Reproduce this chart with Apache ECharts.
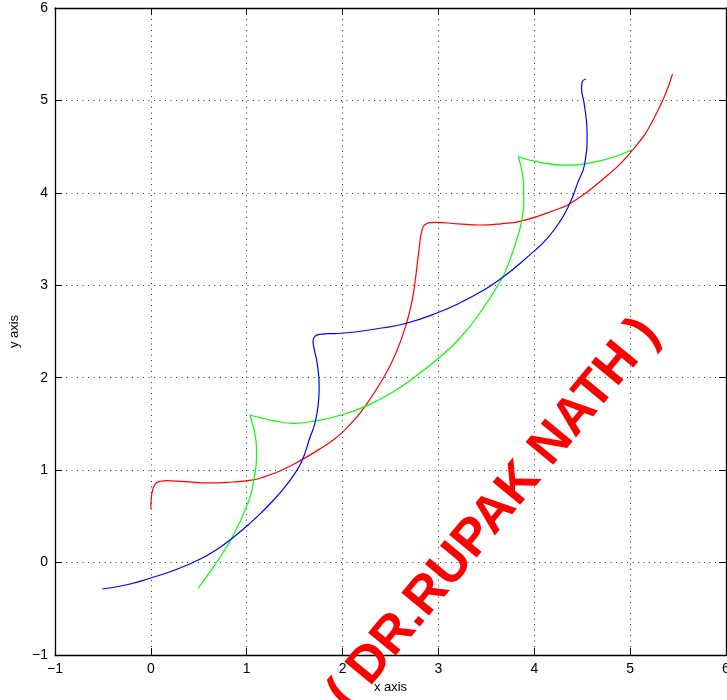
<!DOCTYPE html>
<html>
<head>
<meta charset="utf-8">
<style>
  html, body { margin: 0; padding: 0; background: #fff; overflow: hidden; }
  #chart { width: 727px; height: 700px; }
</style>
<script src="https://cdn.jsdelivr.net/npm/echarts@6/dist/echarts.min.js"></script>
</head>
<body>
<div id="chart"></div>
<script>
// Tick values shared by both axes
const xTicks = [-1, 0, 1, 2, 3, 4, 5, 6];
const yTicks = [-1, 0, 1, 2, 3, 4, 5, 6];

// Traced trajectories, [x, y] pairs in drawing order
const redPath = [
  [0.000, 0.580], [0.005, 0.700], [0.020, 0.790], [0.050, 0.855], [0.100, 0.880],
  [0.164, 0.886], [0.350, 0.876], [0.615, 0.862], [0.850, 0.872], [1.067, 0.894],
  [1.200, 0.935], [1.346, 0.991], [1.554, 1.100], [1.763, 1.230], [1.880, 1.310],
  [1.989, 1.400], [2.110, 1.530], [2.232, 1.687], [2.424, 1.994], [2.550, 2.250],
  [2.667, 2.589], [2.726, 2.840], [2.754, 3.022], [2.806, 3.455], [2.823, 3.570],
  [2.858, 3.655], [2.963, 3.681], [3.200, 3.665], [3.432, 3.652], [3.650, 3.665],
  [3.884, 3.699], [4.267, 3.833], [4.371, 3.882], [4.650, 4.090], [5.031, 4.471],
  [5.275, 4.861], [5.442, 5.286]
];

const greenPath = [
  [0.494, -0.278], [0.600, -0.125], [0.720, 0.055], [0.842, 0.263], [0.998, 0.605],
  [1.074, 0.894], [1.102, 1.218], [1.085, 1.399], [1.060, 1.500], [1.033, 1.597],
  [1.150, 1.565], [1.276, 1.535], [1.484, 1.507], [1.728, 1.535], [1.989, 1.597],
  [2.232, 1.687], [2.500, 1.830], [2.736, 1.994], [3.000, 2.210], [3.223, 2.427],
  [3.432, 2.700], [3.658, 3.065], [3.740, 3.260], [3.815, 3.490], [3.867, 3.688],
  [3.891, 3.920], [3.884, 4.139], [3.860, 4.290], [3.832, 4.391], [4.024, 4.337],
  [4.301, 4.301], [4.649, 4.337], [5.031, 4.471]
];

const bluePath = [
  [-0.508, -0.286], [-0.250, -0.240], [-0.010, -0.170], [0.250, -0.080], [0.511, 0.036],
  [0.700, 0.150], [0.859, 0.272], [1.050, 0.440], [1.170, 0.558], [1.294, 0.692],
  [1.380, 0.795], [1.468, 0.914], [1.572, 1.092], [1.659, 1.350], [1.711, 1.507],
  [1.745, 1.700], [1.756, 1.903], [1.735, 2.156], [1.700, 2.330], [1.692, 2.400],
  [1.711, 2.448], [1.760, 2.470], [1.850, 2.476], [1.989, 2.481], [2.389, 2.535],
  [2.667, 2.589], [2.997, 2.705], [3.223, 2.809], [3.432, 2.925], [3.658, 3.075],
  [3.954, 3.329], [4.128, 3.500], [4.267, 3.688], [4.371, 3.887], [4.450, 4.100],
  [4.527, 4.320], [4.551, 4.645], [4.520, 4.969], [4.493, 5.131], [4.500, 5.200],
  [4.538, 5.232]
];

const watermarkText = '( DR.RUPAK NATH )';

const FONT = '"Liberation Sans", Arial, Helvetica, sans-serif';
const minus = v => String(v).replace('-', '\u2212');

const gridLine = { show: true, lineStyle: { color: '#333', width: 1, type: [1, 4.5] } };
const boxLine = { show: true, onZero: false, lineStyle: { color: '#000', width: 1.3 } };
const inTick = { show: true, inside: true, length: 7, lineStyle: { color: '#000', width: 1 } };

function axisBase(ticks) {
  return {
    type: 'value',
    min: ticks[0],
    max: ticks[ticks.length - 1],
    interval: ticks[1] - ticks[0],
    axisLine: boxLine,
    axisTick: inTick
  };
}

function curve(data, color) {
  return {
    type: 'line',
    data: data,
    xAxisIndex: 0,
    yAxisIndex: 0,
    showSymbol: false,
    symbol: 'none',
    smooth: 0.5,
    lineStyle: { color: color, width: 1.2 },
    silent: true
  };
}

const chart = echarts.init(document.getElementById('chart'), null, { renderer: 'canvas' });
chart.setOption({
  animation: false,
  backgroundColor: '#fff',
  grid: { left: 55, top: 8, right: 1, bottom: 45, containLabel: false, outerBoundsMode: 'none' },
  xAxis: [
    Object.assign(axisBase(xTicks), {
      position: 'bottom',
      name: 'x axis',
      nameLocation: 'middle',
      nameGap: 26,
      nameTextStyle: { color: '#000', fontSize: 13, fontFamily: FONT },
      axisLabel: { color: '#000', fontSize: 14, fontFamily: FONT, margin: 7, formatter: minus },
      splitLine: gridLine
    }),
    Object.assign(axisBase(xTicks), {
      position: 'top',
      axisLabel: { show: false },
      splitLine: { show: false }
    })
  ],
  yAxis: [
    Object.assign(axisBase(yTicks), {
      position: 'left',
      name: 'y axis',
      nameLocation: 'middle',
      nameGap: 34,
      nameTextStyle: { color: '#000', fontSize: 13, fontFamily: FONT },
      axisLabel: { color: '#000', fontSize: 14, fontFamily: FONT, margin: 7, formatter: minus },
      splitLine: gridLine
    }),
    Object.assign(axisBase(yTicks), {
      position: 'right',
      axisLabel: { show: false },
      splitLine: { show: false }
    })
  ],
  series: [
    curve(redPath, '#ff0000'),
    curve(greenPath, '#00ff00'),
    curve(bluePath, '#0000ff')
  ],
  graphic: [{
    type: 'text',
    x: 494,
    y: 514,
    rotation: 50.5 * Math.PI / 180,
    z: 100,
    silent: true,
    style: {
      text: watermarkText,
      font: 'bold 52px ' + FONT,
      fill: '#ff0000',
      textAlign: 'center',
      textVerticalAlign: 'middle',
      align: 'center',
      verticalAlign: 'middle'
    }
  }]
});
</script>
</body>
</html>
